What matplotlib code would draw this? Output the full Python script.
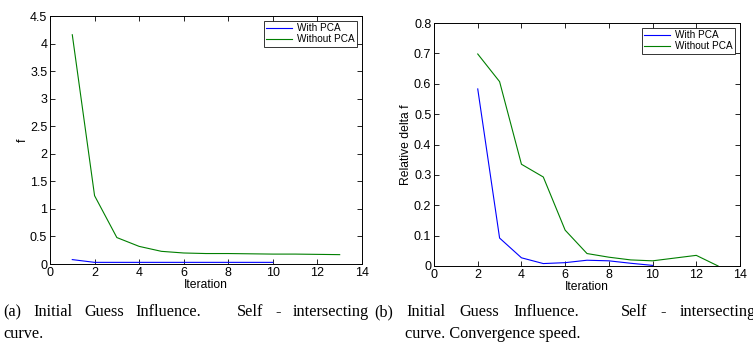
import matplotlib
matplotlib.use("Agg")
import matplotlib.pyplot as plt

# Data
iter_a_pca = [1, 2, 3, 4, 5, 6, 7, 8, 9, 10]
f_pca = [0.08, 0.03, 0.03, 0.03, 0.03, 0.03, 0.03, 0.03, 0.03, 0.03]
iter_a_nopca = [1, 2, 3, 4, 5, 6, 7, 8, 9, 10, 11, 12, 13]
f_nopca = [4.16, 1.24, 0.48, 0.32, 0.23, 0.20, 0.19, 0.19, 0.185, 0.18, 0.18, 0.175, 0.17]

iter_b_pca = [2, 3, 4, 5, 6, 7, 8, 9, 10]
df_pca = [0.583, 0.092, 0.027, 0.008, 0.011, 0.019, 0.017, 0.009, 0.002]
iter_b_nopca = [2, 3, 4, 5, 6, 7, 8, 9, 10, 11, 12, 13]
df_nopca = [0.698, 0.607, 0.335, 0.293, 0.118, 0.041, 0.029, 0.020, 0.017, 0.026, 0.035, 0.0]

legend_labels = ["With PCA", "Without PCA"]
cap_a_line1 = "(a) Initial Guess Influence. Self - intersecting"
cap_a_line2 = "curve."
cap_b_line1 = "(b) Initial Guess Influence. Self - intersecting"
cap_b_line2 = "curve. Convergence speed."

plt.rcParams['font.family'] = ['Liberation Sans', 'DejaVu Sans']

fig = plt.figure(figsize=(7.53, 3.54), dpi=100)
W, H = 753.0, 354.0

def style(ax, ylim, yticks, yticklabels, ylabel):
    ax.set_xlim(0, 14)
    ax.set_ylim(*ylim)
    ax.set_xticks(range(0, 15, 2))
    ax.set_yticks(yticks)
    ax.set_yticklabels(yticklabels)
    ax.tick_params(direction='in', top=True, right=True, labelsize=9, length=3.5, width=0.6, pad=2)
    for s in ax.spines.values():
        s.set_linewidth(0.7)
    ax.set_xlabel("Iteration", fontsize=8.7, labelpad=0)
    ax.set_ylabel(ylabel, fontsize=8.7, labelpad=1)
    leg = ax.legend(loc='upper right', fontsize=7.2, fancybox=False, edgecolor='black',
                    borderaxespad=0.45, handlelength=2.6, borderpad=0.25, labelspacing=0.1,
                    handletextpad=0.5)
    leg.get_frame().set_linewidth(0.7)

ax1 = fig.add_axes([0.0664, 0.2542, 0.4143, 0.7006])
ax1.plot(iter_a_pca, f_pca, color='#0000ff', lw=0.8, label=legend_labels[0])
ax1.plot(iter_a_nopca, f_nopca, color='#007f00', lw=0.8, label=legend_labels[1])
style(ax1, (0, 4.5), [0, 0.5, 1, 1.5, 2, 2.5, 3, 3.5, 4, 4.5],
      ["0", "0.5", "1", "1.5", "2", "2.5", "3", "3.5", "4", "4.5"], "f")

ax2 = fig.add_axes([0.5764, 0.2486, 0.4063, 0.6864])
ax2.plot(iter_b_pca, df_pca, color='#0000ff', lw=0.8, label=legend_labels[0])
ax2.plot(iter_b_nopca, df_nopca, color='#007f00', lw=0.8, label=legend_labels[1])
style(ax2, (0, 0.8), [0, 0.1, 0.2, 0.3, 0.4, 0.5, 0.6, 0.7, 0.8],
      ["0", "0.1", "0.2", "0.3", "0.4", "0.5", "0.6", "0.7", "0.8"], "Relative delta f")

cap_kw = dict(fontsize=11.7, family=['Liberation Serif', 'DejaVu Serif'], va='baseline', ha='left')
renderer = fig.canvas.get_renderer()

def justified(line, x0, x1, ypx):
    words = line.split(" ")
    y = 1 - ypx / H
    arts = [fig.text(0, y, w, **cap_kw) for w in words]
    widths = [a.get_window_extent(renderer).width for a in arts]
    weights = [3.0 if w.endswith(".") else 1.0 for w in words[:-1]]
    gap = (x1 - x0 - sum(widths)) / sum(weights)
    x = x0
    for a, wd, i in zip(arts, widths, range(len(words))):
        a.set_x(x / W)
        x += wd
        if i < len(weights):
            x += gap * weights[i]

justified(cap_a_line1, 3, 369, 316)
fig.text(3 / W, 1 - 338 / H, cap_a_line2, **cap_kw)
justified(cap_b_line1, 374, 756, 316)
fig.text(405 / W, 1 - 338 / H, cap_b_line2, **cap_kw)

fig.savefig("out.png", dpi=100)
